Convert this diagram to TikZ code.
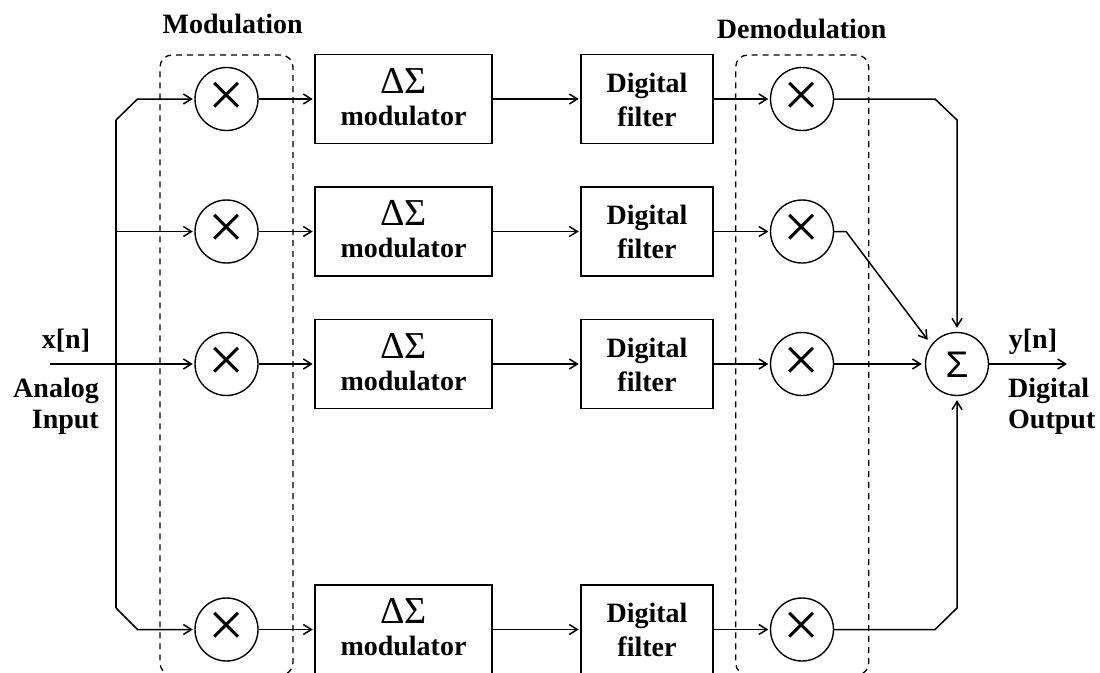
\documentclass[tikz,border=0pt]{standalone}
\usepackage{fontspec}
\setmainfont{Liberation Serif}
\newfontfamily\sumfont{Liberation Sans}
\usetikzlibrary{arrows.meta,calc}
\begin{document}
\begin{tikzpicture}[x=1pt,y=-1pt,
  lw/.style={line width=1.5pt},
  arr/.style={lw,-{Straight Barb[length=8pt,width=10pt]},shorten >=1.5pt},
  mult/.style={circle,draw,line width=1.4pt,minimum size=63pt,inner sep=0pt,font=\fontsize{64}{64}\selectfont},
  blk/.style={draw,line width=1.6pt,minimum height=89pt,inner sep=0pt},
  grp/.style={draw,line width=1.3pt,dash pattern=on 6pt off 5pt,rounded corners=12pt,minimum width=133pt,minimum height=620pt,inner sep=0pt},
  lbl/.style={font=\fontsize{28}{28}\selectfont\bfseries,inner sep=0pt},
  greek/.style={font=\fontsize{38}{38}\selectfont,inner sep=0pt},
]
\path[use as bounding box] (0,0) rectangle (1100,672);
\clip (0,0) rectangle (1100,672);

% dashed groups
\node[grp] (gm) at (226.5,365) {};
\node[grp] (gd) at (802.2,365) {};

% rows
\foreach \i/\y in {1/99,2/231.5,3/364,4/629.5}{
  \node[mult] (x\i) at (226.5,\y) {\smash{\raisebox{-0.27em}{×}}};
  \node[blk,minimum width=177pt] (m\i) at (403.5,\y) {};
  \node[blk,minimum width=132pt] (f\i) at (647,\y) {};
  \node[mult] (d\i) at (802,\y) {\smash{\raisebox{-0.27em}{×}}};
  \node[greek,anchor=base] (tm\i) at ($(m\i)+(0,-6)$) {ΔΣ};
  \node[lbl,anchor=base] (tn\i) at ($(m\i)+(0,26)$) {modulator};
  \node[lbl,anchor=base] (tf\i) at ($(f\i)+(0,-7)$) {Digital};
  \node[lbl,anchor=base] (tg\i) at ($(f\i)+(0,27)$) {filter};
  \draw[arr] (x\i) -- (m\i);
  \draw[arr] (m\i) -- (f\i);
  \draw[arr] (f\i) -- (d\i);
}

% summation
\node[mult,font=\sumfont\fontsize{37}{37}\selectfont] (s) at (957,364) {\smash{\raisebox{-0.36em}{Σ}}};

% labels
\node[lbl,anchor=base] (tmod) at (232.7,33) {Modulation};
\node[lbl,anchor=base] (tdem) at (801.7,38) {Demodulation};
\node[lbl,anchor=base] (tx) at (66,348) {x[n]};
\node[lbl,anchor=base east] (tan) at (99,397) {Analog};
\node[lbl,anchor=base east] (tin) at (99,428) {Input};
\node[lbl,anchor=base] (ty) at (1033,348) {y[n]};
\node[lbl,anchor=base west] (tdg) at (1008,397) {Digital};
\node[lbl,anchor=base west] (tou) at (1008,428) {Output};

% input distribution
\coordinate (in) at (50,364);
\coordinate (bt) at (116,120);
\coordinate (bb) at (116,608);
\coordinate (b2) at (116,231.5);
\coordinate (out) at (1067,364);
\draw[lw] (bt) -- (bb);
\draw[arr] (bt) -- (137.5,99) -- (x1);
\draw[arr] (b2) -- (x2);
\draw[arr] (in) -- (x3);
\draw[arr] (bb) -- (137.5,629.5) -- (x4);

% outputs to summation
\draw[arr,shorten >=4pt] (d1) -- (935,99) -- (957,120) -- (s);
\draw[arr,shorten >=6pt] (d2) -- (846,231.5) -- (s.143);
\draw[arr,shorten >=3pt] (d3) -- (s);
\draw[arr,shorten >=4pt] (d4) -- (935,629.5) -- (957,608) -- (s);
\draw[arr,shorten >=0pt] (s) -- (out);
\end{tikzpicture}
\end{document}
